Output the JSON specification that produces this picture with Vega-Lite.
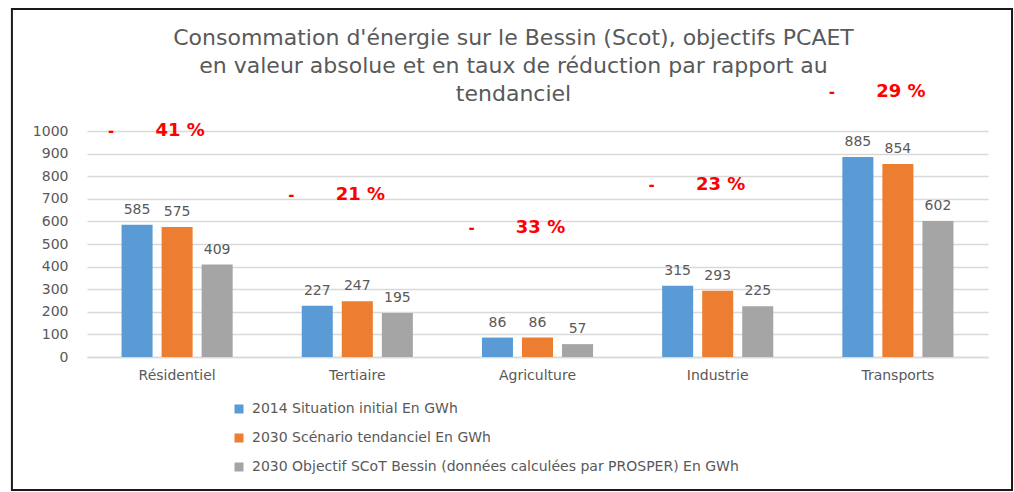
{
  "$schema": "https://vega.github.io/schema/vega-lite/v6.json",
  "autosize": "none",
  "width": 901,
  "height": 226,
  "padding": {"left": 87, "top": 131, "right": 26, "bottom": 135},
  "background": "white",
  "title": {
    "text": ["Consommation d'énergie sur le Bessin (Scot), objectifs PCAET", "en valeur absolue et en taux de réduction par rapport au", "tendanciel"],
    "font": "DejaVu Sans",
    "fontSize": 22,
    "fontWeight": "normal",
    "color": "#595959",
    "anchor": "middle",
    "frame": "group",
    "dx": -24,
    "lineHeight": 28,
    "offset": -98
  },
  "config": {
    "view": {"stroke": null},
    "font": "DejaVu Sans",
    "axisY": {"title": null, "tickCount": 11, "format": "d", "labelOverlap": false, "ticks": false, "domain": false, "grid": true, "gridColor": "#d9d9d9", "gridWidth": 1.5, "labelPadding": 19, "labelFontSize": 14, "labelColor": "#595959", "labelFont": "DejaVu Sans"},
    "axisX": {"title": null, "labelAngle": 0, "ticks": false, "domain": true, "domainColor": "#d9d9d9", "domainWidth": 1.5, "labelPadding": 11, "labelFontSize": 14, "labelColor": "#595959", "labelFont": "DejaVu Sans"}
  },
  "datasets": {
    "bars": [
      {"secteur": "Résidentiel", "serie": "2014 Situation initial En GWh", "valeur": 585},
      {"secteur": "Résidentiel", "serie": "2030 Scénario tendanciel En GWh", "valeur": 575},
      {"secteur": "Résidentiel", "serie": "2030 Objectif SCoT Bessin (données calculées par PROSPER) En GWh", "valeur": 409},
      {"secteur": "Tertiaire", "serie": "2014 Situation initial En GWh", "valeur": 227},
      {"secteur": "Tertiaire", "serie": "2030 Scénario tendanciel En GWh", "valeur": 247},
      {"secteur": "Tertiaire", "serie": "2030 Objectif SCoT Bessin (données calculées par PROSPER) En GWh", "valeur": 195},
      {"secteur": "Agriculture", "serie": "2014 Situation initial En GWh", "valeur": 86},
      {"secteur": "Agriculture", "serie": "2030 Scénario tendanciel En GWh", "valeur": 86},
      {"secteur": "Agriculture", "serie": "2030 Objectif SCoT Bessin (données calculées par PROSPER) En GWh", "valeur": 57},
      {"secteur": "Industrie", "serie": "2014 Situation initial En GWh", "valeur": 315},
      {"secteur": "Industrie", "serie": "2030 Scénario tendanciel En GWh", "valeur": 293},
      {"secteur": "Industrie", "serie": "2030 Objectif SCoT Bessin (données calculées par PROSPER) En GWh", "valeur": 225},
      {"secteur": "Transports", "serie": "2014 Situation initial En GWh", "valeur": 885},
      {"secteur": "Transports", "serie": "2030 Scénario tendanciel En GWh", "valeur": 854},
      {"secteur": "Transports", "serie": "2030 Objectif SCoT Bessin (données calculées par PROSPER) En GWh", "valeur": 602}
    ],
    "reductions": [
      {"secteur": "Résidentiel", "taux": "41 %", "niveau": 1000},
      {"secteur": "Tertiaire", "taux": "21 %", "niveau": 717},
      {"secteur": "Agriculture", "taux": "33 %", "niveau": 571},
      {"secteur": "Industrie", "taux": "23 %", "niveau": 761},
      {"secteur": "Transports", "taux": "29 %", "niveau": 1173}
    ]
  },
  "data": {"name": "bars"},
  "encoding": {
    "x": {
      "field": "secteur",
      "type": "nominal",
      "sort": null,
      "scale": {"domain": ["Résidentiel", "Tertiaire", "Agriculture", "Industrie", "Transports"], "paddingInner": 0.3333, "paddingOuter": 0.1667}
    }
  },
  "layer": [
    {
      "mark": {"type": "bar"},
      "encoding": {
        "xOffset": {"field": "serie", "type": "nominal", "sort": null, "scale": {"paddingInner": 0.225, "paddingOuter": 0.1125}},
        "y": {
          "field": "valeur",
          "type": "quantitative",
          "scale": {"domain": [0, 1000], "nice": false},
          "axis": {"values": [0, 100, 200, 300, 400, 500, 600, 700, 800, 900, 1000], "tickCount": 11}
        },
        "color": {
          "field": "serie",
          "type": "nominal",
          "sort": null,
          "scale": {"domain": ["2014 Situation initial En GWh", "2030 Scénario tendanciel En GWh", "2030 Objectif SCoT Bessin (données calculées par PROSPER) En GWh"], "range": ["#5B9BD5", "#ED7D31", "#A5A5A5"]},
          "legend": {"title": null, "orient": "none", "legendX": 145, "legendY": 271, "direction": "vertical", "symbolType": "square", "symbolSize": 81, "symbolStrokeWidth": 0, "labelFontSize": 14, "labelColor": "#595959", "labelFont": "DejaVu Sans", "labelOffset": 6, "rowPadding": 15, "labelLimit": 700}
        }
      }
    },
    {
      "mark": {"type": "text", "baseline": "alphabetic", "dy": -11, "fontSize": 14, "color": "#595959", "font": "DejaVu Sans"},
      "encoding": {
        "xOffset": {"field": "serie", "type": "nominal", "sort": null},
        "y": {"field": "valeur", "type": "quantitative", "axis": {"values": [0, 100, 200, 300, 400, 500, 600, 700, 800, 900, 1000], "tickCount": 11}},
        "text": {"field": "valeur", "type": "quantitative"}
      }
    },
    {
      "data": {"name": "reductions"},
      "mark": {"type": "text", "baseline": "middle", "align": "center", "dx": -66, "fontSize": 15, "fontWeight": "bold", "color": "#ff0000", "font": "DejaVu Sans"},
      "encoding": {
        "y": {"field": "niveau", "type": "quantitative", "axis": {"values": [0, 100, 200, 300, 400, 500, 600, 700, 800, 900, 1000], "tickCount": 11}},
        "text": {"value": "-"}
      }
    },
    {
      "data": {"name": "reductions"},
      "mark": {"type": "text", "baseline": "middle", "align": "center", "dx": 3, "fontSize": 18, "fontWeight": "bold", "color": "#ff0000", "font": "DejaVu Sans"},
      "encoding": {
        "y": {"field": "niveau", "type": "quantitative", "axis": {"values": [0, 100, 200, 300, 400, 500, 600, 700, 800, 900, 1000], "tickCount": 11}},
        "text": {"field": "taux", "type": "nominal"}
      }
    },
    {
      "data": {"values": [{"k": 1}]},
      "mark": {"type": "rect", "fill": null, "stroke": "#1a1a1a", "strokeWidth": 2},
      "encoding": {
        "x": {"datum": "Résidentiel", "bandPosition": -0.875},
        "x2": {"datum": "Transports", "bandPosition": 1.45},
        "y": {"datum": 1540, "type": "quantitative", "axis": {"values": [0, 100, 200, 300, 400, 500, 600, 700, 800, 900, 1000], "tickCount": 11}},
        "y2": {"datum": -588}
      }
    }
  ]
}
